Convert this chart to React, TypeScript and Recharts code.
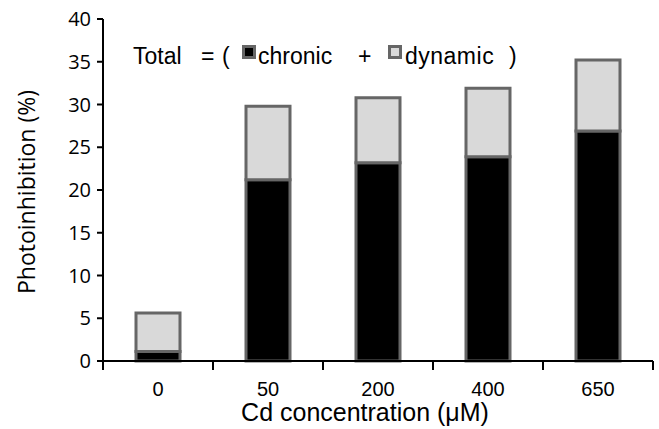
import React from 'react';
import { BarChart, Bar, XAxis, YAxis } from 'recharts';

const categories = ['0', '50', '200', '400', '650'];
const chronic = [1.1, 21.2, 23.2, 23.9, 26.9];
const dynamic = [4.5, 8.6, 7.6, 8.0, 8.3];
const yTicks = [0, 5, 10, 15, 20, 25, 30, 35, 40];

const data = categories.map((c, i) => ({ conc: c, chronic: chronic[i], dynamic: dynamic[i] }));

const ARIAL = '"Liberation Sans", Arial, sans-serif';
const CAL = '"Open Sans", "Noto Sans", sans-serif';

const XTick = (props: any) => {
  const { x, y, payload, index, visibleTicksCount } = props;
  const off = payload && typeof payload.offset === 'number' ? payload.offset : 55;
  const last = index === (visibleTicksCount ?? 5) - 1;
  return (
    <g>
      <line x1={x - off} y1={y} x2={x - off} y2={y + 9} stroke="#000" strokeWidth={2} />
      {last && <line x1={x + off} y1={y} x2={x + off} y2={y + 9} stroke="#000" strokeWidth={2} />}
      <text x={x} y={y + 35} textAnchor="middle" fontFamily={ARIAL} fontSize={20} fill="#000">
        {payload.value}
      </text>
    </g>
  );
};

export default function App() {
  return (
    <div style={{ position: 'absolute', left: 0, top: 0, width: 659, height: 429, background: '#fff' }}>
      <BarChart
        width={659}
        height={429}
        data={data}
        margin={{ top: 19, right: 6, left: 43, bottom: 38 }}
        barSize={44}
      >
        <XAxis
          dataKey="conc"
          axisLine={{ stroke: '#000', strokeWidth: 2 }}
          tickLine={false}
          tickSize={0}
          tickMargin={0}
          height={30}
          tick={<XTick />}
          interval={0}
        />
        <XAxis xAxisId="top" dataKey="conc" orientation="top" height={0} tick={false} tickLine={false} axisLine={{ stroke: '#000', strokeWidth: 2 }} />
        <YAxis
          domain={[0, 40]}
          ticks={yTicks}
          width={60}
          interval={0}
          axisLine={{ stroke: '#000', strokeWidth: 2 }}
          tickLine={{ stroke: '#000', strokeWidth: 2 }}
          tickSize={6}
          tickMargin={6}
          tick={{ fill: '#000', fontFamily: CAL, fontSize: 20 }}
        />
        <YAxis yAxisId="right" orientation="right" width={0} domain={[0, 40]} tick={false} tickLine={false} axisLine={{ stroke: '#000', strokeWidth: 2 }} />
        <Bar dataKey="chronic" stackId="a" fill="#000" stroke="#666" strokeWidth={3} isAnimationActive={false} />
        <Bar dataKey="dynamic" stackId="a" fill="#d9d9d9" stroke="#666" strokeWidth={3} isAnimationActive={false} />
        <g fontFamily={ARIAL} fontSize={23} fill="#000">
          <text x={133} y={64}>Total</text>
          <text x={201} y={64}>=</text>
          <text x={222} y={64}>(</text>
          <rect x={243.5} y={46.5} width={11} height={11} fill="#000" stroke="#666" strokeWidth={3} />
          <text x={258} y={64}>chronic</text>
          <text x={358} y={64}>+</text>
          <rect x={389.5} y={46.5} width={11} height={11} fill="#d9d9d9" stroke="#666" strokeWidth={3} />
          <text x={405} y={64} letterSpacing={0.5}>dynamic</text>
          <text x={509} y={64}>)</text>
        </g>
        <text x={26} y={192} transform="rotate(-90 26 192)" textAnchor="middle" dominantBaseline="central" fontFamily={CAL} fontSize={23} fill="#000">
          Photoinhibition (%)
        </text>
        <text x={365} y={421} textAnchor="middle" fontFamily={ARIAL} fontSize={25} fill="#000">
          Cd concentration (μM)
        </text>
      </BarChart>
    </div>
  );
}
